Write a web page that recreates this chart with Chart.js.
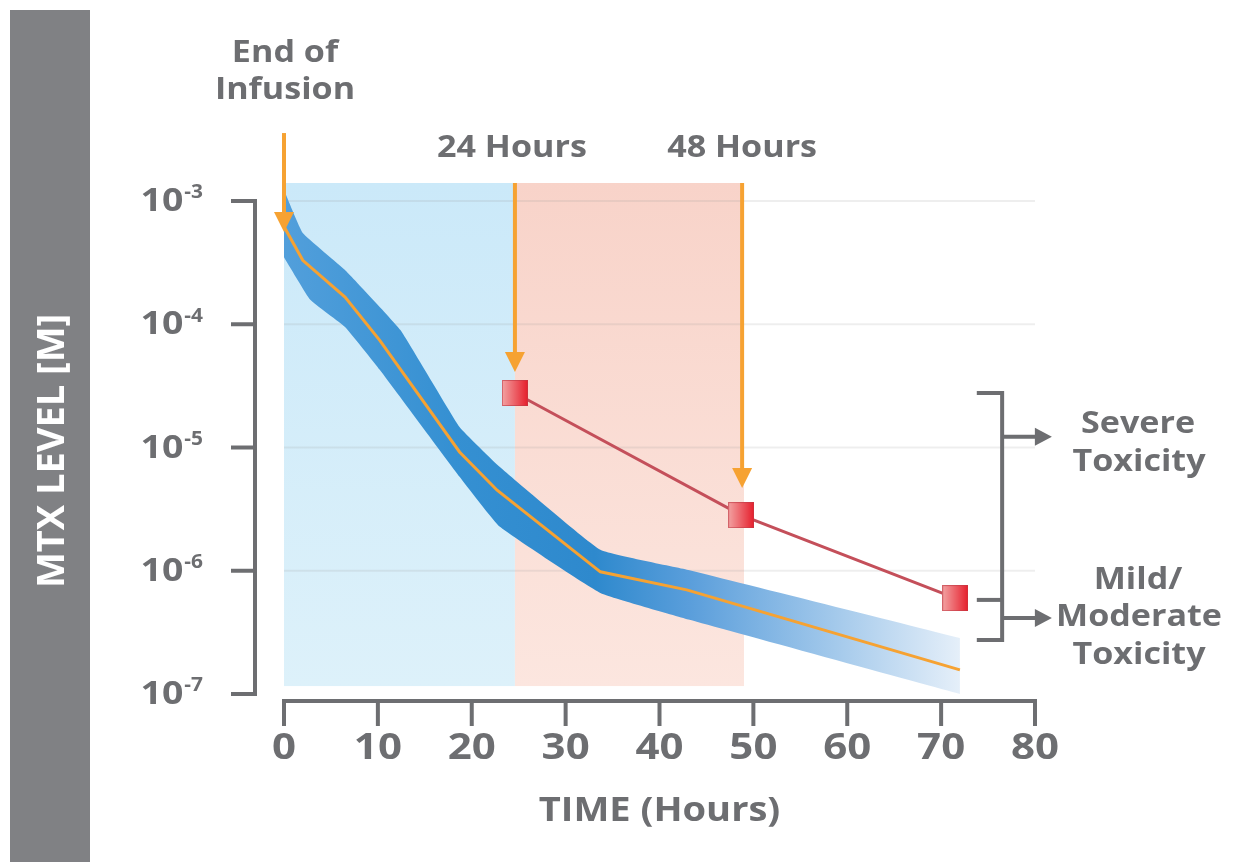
<!DOCTYPE html>
<html><head><meta charset="utf-8">
<script src="https://cdn.jsdelivr.net/npm/chart.js@4"></script>
<style>html,body{margin:0;padding:0;background:#fff;}canvas{display:block}</style>
</head><body>
<canvas id="c" width="1239" height="862"></canvas>
<script>
// ---- data ----
const medianX = [0, 2.0, 6.5, 10.2, 18.7, 22.7, 33.7, 42.9, 72.0];
const medianY = [6.2e-4, 3.3e-4, 1.66e-4, 7.4e-5, 9.2e-6, 4.5e-6, 9.8e-7, 7.0e-7, 1.57e-7];
const bandUpperX = [0, 2.0, 6.5, 12.4, 18.7, 23.0, 33.7, 43.2, 72.0];
const bandUpperY = [1.23e-3, 5.5e-4, 2.75e-4, 8.97e-5, 1.47e-5, 6.95e-6, 1.48e-6, 1.01e-6, 2.85e-7];
const bandLowerX = [0, 2.8, 6.5, 10.2, 18.7, 23.0, 33.7, 43.2, 72.0];
const bandLowerY = [3.5e-4, 1.58e-4, 9.5e-5, 4.27e-5, 5.8e-6, 2.27e-6, 6.6e-7, 4.0e-7, 1.0e-7];
const thresholdX = [24.6, 48.7, 71.5];
const thresholdY = [2.77e-5, 2.83e-6, 6.0e-7];
const xTicks = [0, 10, 20, 30, 40, 50, 60, 70, 80];
const yTicks = [1e-3, 1e-4, 1e-5, 1e-6, 1e-7];
const yTickExponents = ['-3', '-4', '-5', '-6', '-7'];
const regionBlue = [0, 24.6];
const regionRed = [24.6, 49.0];
const regionY = [1.4e-3, 1.16e-7];
const arrowEOI = {x: 0, top: 3.56e-3, tip: 5.6e-4};
const arrow24 = {x: 24.6, top: 1.4e-3, tip: 4.1e-5};
const arrow48 = {x: 48.8, top: 1.4e-3, tip: 4.7e-6};

const GRAY = '#6d6e71';
const ORANGE = '#f6a232';
const FONT = '"Open Sans", "Noto Sans", sans-serif';

// square marker
const sq = document.createElement('canvas');
sq.width = 26; sq.height = 26;
(function(){
  const c = sq.getContext('2d');
  const g = c.createLinearGradient(0,0,26,0);
  g.addColorStop(0,'#f3a3a3'); g.addColorStop(1,'#e61e2c');
  c.fillStyle = g; c.fillRect(0,0,26,26);
  c.strokeStyle = 'rgba(190,60,70,0.6)'; c.lineWidth = 1; c.strokeRect(0.5,0.5,25,25);
})();

function pts(xs, ys){ return xs.map((v,i)=>({x:v, y:ys[i]})); }

function txt(ctx, s, x, y, size, sx, align){
  ctx.save();
  ctx.font = 'bold ' + size + 'px ' + FONT;
  ctx.textAlign = align || 'center'; ctx.textBaseline = 'middle';
  ctx.translate(x, y); ctx.scale(sx, 1);
  ctx.fillText(s, 0, 0);
  const w = ctx.measureText(s).width * sx;
  ctx.restore();
  return w;
}

function arrowDown(ctx, x, y0, y1, color){
  ctx.strokeStyle = color; ctx.fillStyle = color; ctx.lineWidth = 4;
  ctx.beginPath(); ctx.moveTo(x, y0); ctx.lineTo(x, y1 - 16); ctx.stroke();
  ctx.beginPath(); ctx.moveTo(x - 10, y1 - 20); ctx.lineTo(x + 10, y1 - 20); ctx.lineTo(x, y1); ctx.closePath(); ctx.fill();
}
function arrowRight(ctx, x0, x1, y, color){
  ctx.strokeStyle = color; ctx.fillStyle = color; ctx.lineWidth = 4;
  ctx.beginPath(); ctx.moveTo(x0, y); ctx.lineTo(x1 - 14, y); ctx.stroke();
  ctx.beginPath(); ctx.moveTo(x1 - 17, y - 9); ctx.lineTo(x1 - 17, y + 9); ctx.lineTo(x1, y); ctx.closePath(); ctx.fill();
}

const decor = {
  id: 'decor',
  beforeDraw(chart){
    const {ctx, scales:{x, y}} = chart;
    ctx.save();
    ctx.fillStyle = '#fff'; ctx.fillRect(0,0,chart.width,chart.height);
    ctx.fillStyle = '#808184'; ctx.fillRect(10, 10, 80, 852);
    ctx.save();
    ctx.translate(53, 451); ctx.rotate(-Math.PI/2);
    ctx.fillStyle = '#fff'; ctx.font = 'bold 38px ' + FONT;
    ctx.textAlign = 'center'; ctx.textBaseline = 'middle';
    ctx.fillText('MTX LEVEL [M]', 0, 0);
    ctx.restore();
    // shaded time windows
    const y0 = y.getPixelForValue(regionY[0]), y1 = y.getPixelForValue(regionY[1]);
    [[regionBlue, '#cbe9f9', '#ddf1fa'], [regionRed, '#f8d3c9', '#fce6df']].forEach(([r, c0, c1]) => {
      const x0 = x.getPixelForValue(r[0]), x1 = x.getPixelForValue(r[1]);
      const g = ctx.createLinearGradient(0, y0, 0, y1);
      g.addColorStop(0, c0); g.addColorStop(1, c1);
      ctx.fillStyle = g; ctx.fillRect(x0, y0, x1 - x0, y1 - y0);
    });
    // grid
    ctx.strokeStyle = 'rgba(150,150,150,0.16)'; ctx.lineWidth = 2;
    yTicks.slice(0, 4).forEach(v => {
      const py = y.getPixelForValue(v);
      ctx.beginPath(); ctx.moveTo(chart.chartArea.left, py); ctx.lineTo(chart.chartArea.right, py); ctx.stroke();
    });
    ctx.restore();
  },
  afterDatasetsDraw(chart){
    const {ctx, scales:{x, y}, chartArea} = chart;
    ctx.save();
    // arrows
    [arrowEOI, arrow24, arrow48].forEach(a => arrowDown(ctx, x.getPixelForValue(a.x), y.getPixelForValue(a.top), y.getPixelForValue(a.tip), ORANGE));
    // y axis bracket
    ctx.strokeStyle = GRAY; ctx.lineWidth = 4; ctx.lineCap = 'butt';
    const ax = chartArea.left - 29;
    const yt = y.getPixelForValue(yTicks[0]), yb = y.getPixelForValue(yTicks[yTicks.length-1]);
    ctx.beginPath(); ctx.moveTo(ax, yt - 2); ctx.lineTo(ax, yb + 2); ctx.stroke();
    ctx.fillStyle = GRAY;
    yTicks.forEach((v, i) => {
      const py = y.getPixelForValue(v);
      ctx.beginPath(); ctx.moveTo(ax - 24, py); ctx.lineTo(ax + 2, py); ctx.stroke();
      const right = ax - 52;
      const sw = txt(ctx, yTickExponents[i], right, py - 8, 19, 1.1, 'right');
      txt(ctx, '10', right - sw - 1, py + 1, 32, 1.17, 'right');
    });
    // x axis
    const axy = chartArea.bottom + 7;
    ctx.beginPath(); ctx.moveTo(chartArea.left - 2, axy); ctx.lineTo(chartArea.right + 2, axy); ctx.stroke();
    xTicks.forEach(v => {
      const px = x.getPixelForValue(v);
      ctx.beginPath(); ctx.moveTo(px, axy); ctx.lineTo(px, axy + 25); ctx.stroke();
      txt(ctx, String(v), px, axy + 48, 35, 1.2);
    });
    txt(ctx, 'TIME (Hours)', x.getPixelForValue(40), axy + 110, 34, 1.12);
    // top labels
    txt(ctx, 'End of', x.getPixelForValue(0) + 1, 53, 31, 1.1);
    txt(ctx, 'Infusion', x.getPixelForValue(0) + 1, 90, 31, 1.1);
    txt(ctx, '24 Hours', x.getPixelForValue(arrow24.x) - 3, 148, 31, 1.1);
    txt(ctx, '48 Hours', x.getPixelForValue(arrow48.x), 148, 31, 1.1);
    // right bracket
    const bx = x.getPixelForValue(76.5), bl = x.getPixelForValue(73.8), be = x.getPixelForValue(81.8);
    const bTop = y.getPixelForValue(2.77e-5), bMid = y.getPixelForValue(5.8e-7), bBot = y.getPixelForValue(2.74e-7);
    ctx.beginPath(); ctx.moveTo(bl, bTop); ctx.lineTo(bx, bTop); ctx.lineTo(bx, bBot); ctx.lineTo(bl, bBot); ctx.stroke();
    ctx.beginPath(); ctx.moveTo(bl, bMid); ctx.lineTo(bx, bMid); ctx.stroke();
    arrowRight(ctx, bx, be, y.getPixelForValue(1.22e-5), GRAY);
    arrowRight(ctx, bx, be, y.getPixelForValue(4.14e-7), GRAY);
    ctx.fillStyle = GRAY;
    txt(ctx, 'Severe', 1138, 424, 31, 1.1);
    txt(ctx, 'Toxicity', 1139, 462, 31, 1.1);
    txt(ctx, 'Mild/', 1138, 580, 31, 1.1);
    txt(ctx, 'Moderate', 1139, 617, 31, 1.1);
    txt(ctx, 'Toxicity', 1139, 655, 31, 1.1);
    ctx.restore();
  }
};

function bandGradient(ctx){
  const chart = ctx.chart;
  if (!chart.chartArea) return 'rgba(47,138,205,0.9)';
  const xs = chart.scales.x;
  const x0 = xs.getPixelForValue(0), x1 = xs.getPixelForValue(72);
  const g = chart.ctx.createLinearGradient(x0, 0, x1, 0);
  g.addColorStop(0, '#529fdb');
  g.addColorStop(0.25, '#3590d2');
  g.addColorStop(0.46, '#2e89cd');
  g.addColorStop(0.6, '#5a9edb');
  g.addColorStop(0.8, '#9ec6ea');
  g.addColorStop(1, '#e5eff9');
  return g;
}

new Chart(document.getElementById('c'), {
  type: 'line',
  data: {
    datasets: [
      {label:'upper', data: pts(bandUpperX, bandUpperY), borderWidth: 0, pointRadius: 0, fill: false, tension: 0.1, order: 4},
      {label:'lower', data: pts(bandLowerX, bandLowerY), borderWidth: 0, pointRadius: 0, fill: '-1', backgroundColor: bandGradient, tension: 0.1, order: 3},
      {label:'median', data: pts(medianX, medianY), borderColor: ORANGE, borderWidth: 3, pointRadius: 0, fill: false, order: 2},
      {label:'threshold', data: pts(thresholdX, thresholdY), borderColor: '#c44f5a', borderWidth: 3, pointStyle: sq, pointRadius: 13, fill: false, order: 1}
    ]
  },
  options: {
    responsive: false, animation: false,
    layout: {padding: {left: 284, right: 204, top: 183, bottom: 168}},
    plugins: {legend: {display: false}, tooltip: {enabled: false}, filler: {drawTime: 'beforeDatasetsDraw'}},
    scales: {
      x: {type: 'linear', min: 0, max: 80, display: false},
      y: {type: 'logarithmic', min: 1e-7, max: 1.4e-3, display: false}
    }
  },
  plugins: [decor]
});
</script>
</body></html>
